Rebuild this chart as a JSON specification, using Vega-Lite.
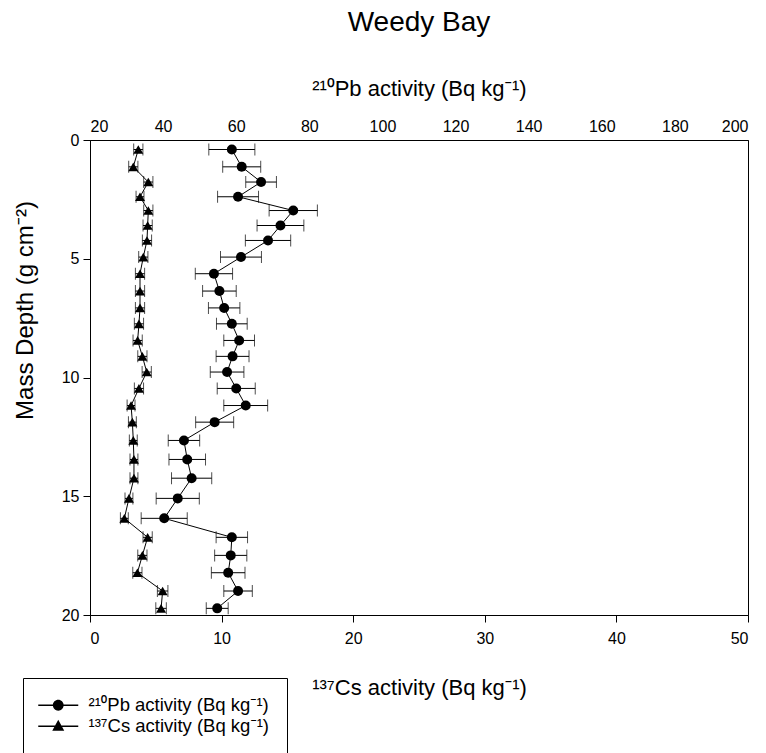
{
  "$schema": "https://vega.github.io/schema/vega-lite/v6.json",
  "width": 658,
  "height": 475,
  "autosize": "none",
  "padding": {"left": 90, "top": 140, "right": 18, "bottom": 138},
  "background": "white",
  "title": {
    "text": "Weedy Bay",
    "font": "Liberation Sans",
    "fontSize": 28,
    "fontWeight": "normal",
    "color": "black",
    "anchor": "middle",
    "offset": 40
  },
  "config": {
    "view": {"stroke": "black", "strokeWidth": 1},
    "axis": {
      "grid": false,
      "labelFont": "Liberation Sans",
      "labelFontSize": 16,
      "labelColor": "black",
      "titleFont": "Liberation Sans, Noto Sans",
      "titleFontSize": 22,
      "titleFontWeight": "normal",
      "titleColor": "black",
      "domainColor": "black",
      "tickColor": "black",
      "tickSize": 7
    }
  },
  "data": {
    "values": [
      {"depth": 0.40, "pb": 58.8, "pbErr": 6.3, "cs": 3.67, "csErr": 0.35},
      {"depth": 1.13, "pb": 61.5, "pbErr": 5.2, "cs": 3.29, "csErr": 0.35},
      {"depth": 1.77, "pb": 66.8, "pbErr": 4.2, "cs": 4.43, "csErr": 0.35},
      {"depth": 2.39, "pb": 60.5, "pbErr": 5.6, "cs": 3.80, "csErr": 0.3},
      {"depth": 2.97, "pb": 75.6, "pbErr": 6.6, "cs": 4.43, "csErr": 0.35},
      {"depth": 3.60, "pb": 72.1, "pbErr": 6.4, "cs": 4.38, "csErr": 0.35},
      {"depth": 4.23, "pb": 68.7, "pbErr": 6.2, "cs": 4.33, "csErr": 0.35},
      {"depth": 4.93, "pb": 61.3, "pbErr": 5.6, "cs": 4.05, "csErr": 0.35},
      {"depth": 5.63, "pb": 53.9, "pbErr": 5.1, "cs": 3.80, "csErr": 0.35},
      {"depth": 6.36, "pb": 55.4, "pbErr": 4.6, "cs": 3.80, "csErr": 0.35},
      {"depth": 7.07, "pb": 56.7, "pbErr": 4.3, "cs": 3.80, "csErr": 0.35},
      {"depth": 7.74, "pb": 58.8, "pbErr": 4.2, "cs": 3.72, "csErr": 0.35},
      {"depth": 8.44, "pb": 60.8, "pbErr": 4.2, "cs": 3.62, "csErr": 0.35},
      {"depth": 9.11, "pb": 59.0, "pbErr": 4.5, "cs": 3.98, "csErr": 0.35},
      {"depth": 9.77, "pb": 57.5, "pbErr": 4.6, "cs": 4.31, "csErr": 0.35},
      {"depth": 10.46, "pb": 60.0, "pbErr": 5.2, "cs": 3.72, "csErr": 0.35},
      {"depth": 11.18, "pb": 62.6, "pbErr": 6.0, "cs": 3.12, "csErr": 0.3},
      {"depth": 11.88, "pb": 54.1, "pbErr": 5.2, "cs": 3.22, "csErr": 0.3},
      {"depth": 12.65, "pb": 45.7, "pbErr": 4.3, "cs": 3.29, "csErr": 0.3},
      {"depth": 13.45, "pb": 46.6, "pbErr": 5.0, "cs": 3.34, "csErr": 0.3},
      {"depth": 14.24, "pb": 47.8, "pbErr": 5.5, "cs": 3.34, "csErr": 0.3},
      {"depth": 15.09, "pb": 44.0, "pbErr": 5.9, "cs": 2.96, "csErr": 0.3},
      {"depth": 15.93, "pb": 40.3, "pbErr": 6.3, "cs": 2.61, "csErr": 0.3},
      {"depth": 16.73, "pb": 58.8, "pbErr": 4.3, "cs": 4.38, "csErr": 0.35},
      {"depth": 17.49, "pb": 58.5, "pbErr": 4.4, "cs": 3.98, "csErr": 0.35},
      {"depth": 18.22, "pb": 57.8, "pbErr": 4.6, "cs": 3.60, "csErr": 0.35},
      {"depth": 18.99, "pb": 60.5, "pbErr": 3.9, "cs": 5.52, "csErr": 0.4},
      {"depth": 19.72, "pb": 54.8, "pbErr": 3.0, "cs": 5.40, "csErr": 0.4}
    ]
  },
  "layer": [
    {
      "encoding": {
        "x": {
          "field": "pb",
          "type": "quantitative",
          "scale": {"domain": [20, 200], "nice": false, "zero": false},
          "axis": {
            "orient": "top",
            "values": [20, 40, 60, 80, 100, 120, 140, 160, 180, 200],
            "ticks": false,
            "labelPadding": 6,
            "title": "²¹⁰Pb activity (Bq kg⁻¹)",
            "titleY": -52,
            "titleBaseline": "middle"
          }
        },
        "y": {
          "field": "depth",
          "type": "quantitative",
          "scale": {"domain": [0, 20], "reverse": true, "nice": false, "zero": false},
          "axis": {
            "values": [0, 5, 10, 15, 20],
            "labelPadding": 4,
            "title": "Mass Depth (g cm⁻²)",
            "titleFontSize": 24,
            "titleX": -65,
            "titleY": 170,
            "titleBaseline": "middle"
          }
        }
      },
      "layer": [
        {
          "mark": {"type": "errorbar", "color": "black", "thickness": 1, "ticks": {"size": 12, "thickness": 1, "color": "black"}},
          "encoding": {"xError": {"field": "pbErr"}}
        },
        {
          "mark": {"type": "line", "color": "black", "strokeWidth": 1},
          "encoding": {"order": {"field": "depth", "type": "quantitative"}}
        },
        {
          "mark": {"type": "point", "shape": "circle", "filled": true, "color": "black", "opacity": 1, "size": 100}
        }
      ]
    },
    {
      "encoding": {
        "x": {
          "field": "cs",
          "type": "quantitative",
          "scale": {"domain": [0, 50], "nice": false, "zero": false},
          "axis": {
            "orient": "bottom",
            "values": [0, 10, 20, 30, 40, 50],
            "labelPadding": 8,
            "title": "¹³⁷Cs activity (Bq kg⁻¹)",
            "titleY": 72,
            "titleBaseline": "middle"
          }
        },
        "y": {
          "field": "depth",
          "type": "quantitative",
          "scale": {"domain": [0, 20], "reverse": true, "nice": false, "zero": false},
          "axis": {
            "values": [0, 5, 10, 15, 20],
            "labelPadding": 4,
            "title": "Mass Depth (g cm⁻²)",
            "titleFontSize": 24,
            "titleX": -65,
            "titleY": 170,
            "titleBaseline": "middle"
          }
        }
      },
      "layer": [
        {
          "mark": {"type": "errorbar", "color": "black", "thickness": 1, "ticks": {"size": 12, "thickness": 1, "color": "black"}},
          "encoding": {"xError": {"field": "csErr"}}
        },
        {
          "mark": {"type": "line", "color": "black", "strokeWidth": 1},
          "encoding": {"order": {"field": "depth", "type": "quantitative"}}
        },
        {
          "mark": {"type": "point", "shape": "triangle-up", "filled": true, "color": "black", "opacity": 1, "size": 100}
        }
      ]
    },
    {
      "transform": [
        {"fold": ["pb", "cs"], "as": ["series", "value"]},
        {"filter": "datum.depth < 0"}
      ],
      "mark": {"type": "point", "filled": true, "color": "black"},
      "encoding": {
        "shape": {
          "field": "series",
          "type": "nominal",
          "scale": {
            "domain": ["pb", "cs"],
            "range": [
              "M-4,-0.16H4V0.16H-4ZM1.08,0A1.08,1.08 0 1,1 -1.08,0A1.08,1.08 0 1,1 1.08,0Z",
              "M-4,-0.16H4V0.16H-4ZM0,-1.3L1.2,0.9L-1.2,0.9Z"
            ]
          },
          "legend": {
            "orient": "none",
            "legendX": -67,
            "legendY": 538,
            "title": null,
            "direction": "vertical",
            "labelExpr": "datum.value == 'pb' ? '²¹⁰Pb activity (Bq kg⁻¹)' : '¹³⁷Cs activity (Bq kg⁻¹)'",
            "labelFont": "Liberation Sans, Noto Sans",
            "labelFontSize": 18.5,
            "labelColor": "black",
            "labelLimit": 300,
            "symbolSize": 100,
            "symbolFillColor": "black",
            "symbolStrokeColor": "black",
            "symbolStrokeWidth": 0,
            "symbolOpacity": 1,
            "symbolOffset": 8,
            "rowPadding": 2,
            "labelOffset": 21,
            "strokeColor": "black",
            "fillColor": "white",
            "padding": 18,
            "cornerRadius": 0,
            "encode": {
              "symbols": {"update": {"fill": {"value": "black"}, "opacity": {"value": 1}}}
            }
          }
        }
      }
    }
  ],
  "resolve": {"scale": {"x": "independent"}}
}
